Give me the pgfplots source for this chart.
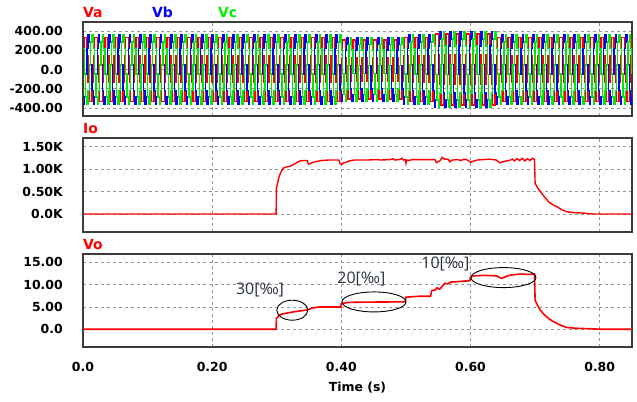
\documentclass[border=0pt]{standalone}
\usepackage{fontspec}
\setmainfont{DejaVu Sans}
\newfontfamily\annfont{Open Sans}
\usepackage{pgfplots}
\pgfplotsset{compat=1.18}
\usepackage{pgfplotstable}

\definecolor{vred}{RGB}{255,0,0}
\definecolor{vblue}{RGB}{0,0,255}
\definecolor{vgreen}{RGB}{0,235,0}
\definecolor{anntext}{RGB}{40,48,62}
\definecolor{gridgray}{RGB}{150,150,150}
\definecolor{framegray}{RGB}{60,60,60}

\pgfplotsset{
  psim/.style={
    scale only axis, width=549bp, xmin=0, xmax=0.85,
    axis line style={draw=framegray, line width=1.2bp},
    grid=major,
    major grid style={gridgray, line width=0.9bp, dash pattern=on 3bp off 3bp},
    major tick length=0,
    xtick={0,0.2,0.4,0.6,0.8},
    tick label style={font=\bfseries\fontsize{12.5}{14}\selectfont},
    yticklabel style={anchor=east, inner sep=0pt, xshift=-20bp},
    xticklabel style={anchor=north, inner sep=0pt, yshift=-15bp},
  },
}

% three phase voltages, sampled every 2 ms (t, Va, Vb, Vc)
\pgfplotstableread{
t va vb vc
0.000 138 -357 219
0.002 333 -285 -47
0.004 333 -47 -285
0.006 138 219 -357
0.008 -138 357 -219
0.010 -333 285 47
0.012 -333 47 285
0.014 -138 -219 357
0.016 138 -357 219
0.018 333 -285 -47
0.020 333 -47 -285
0.022 138 219 -357
0.024 -138 357 -219
0.026 -333 285 47
0.028 -333 47 285
0.030 -138 -219 357
0.032 138 -357 219
0.034 333 -285 -47
0.036 333 -47 -285
0.038 138 219 -357
0.040 -138 357 -219
0.042 -333 285 47
0.044 -333 47 285
0.046 -138 -219 357
0.048 138 -357 219
0.050 333 -285 -47
0.052 333 -47 -285
0.054 138 219 -357
0.056 -138 357 -219
0.058 -333 285 47
0.060 -333 47 285
0.062 -138 -219 357
0.064 138 -357 219
0.066 333 -285 -47
0.068 333 -47 -285
0.070 138 219 -357
0.072 -138 357 -219
0.074 -333 285 47
0.076 -333 47 285
0.078 -138 -219 357
0.080 138 -357 219
0.082 333 -285 -47
0.084 333 -47 -285
0.086 138 219 -357
0.088 -138 357 -219
0.090 -333 285 47
0.092 -333 47 285
0.094 -138 -219 357
0.096 138 -357 219
0.098 333 -285 -47
0.100 333 -47 -285
0.102 138 219 -357
0.104 -138 357 -219
0.106 -333 285 47
0.108 -333 47 285
0.110 -138 -219 357
0.112 138 -357 219
0.114 333 -285 -47
0.116 333 -47 -285
0.118 138 219 -357
0.120 -138 357 -219
0.122 -333 285 47
0.124 -333 47 285
0.126 -138 -219 357
0.128 138 -357 219
0.130 333 -285 -47
0.132 333 -47 -285
0.134 138 219 -357
0.136 -138 357 -219
0.138 -333 285 47
0.140 -333 47 285
0.142 -138 -219 357
0.144 138 -357 219
0.146 333 -285 -47
0.148 333 -47 -285
0.150 138 219 -357
0.152 -138 357 -219
0.154 -333 285 47
0.156 -333 47 285
0.158 -138 -219 357
0.160 138 -357 219
0.162 333 -285 -47
0.164 333 -47 -285
0.166 138 219 -357
0.168 -138 357 -219
0.170 -333 285 47
0.172 -333 47 285
0.174 -138 -219 357
0.176 138 -357 219
0.178 333 -285 -47
0.180 333 -47 -285
0.182 138 219 -357
0.184 -138 357 -219
0.186 -333 285 47
0.188 -333 47 285
0.190 -138 -219 357
0.192 138 -357 219
0.194 333 -285 -47
0.196 333 -47 -285
0.198 138 219 -357
0.200 -138 357 -219
0.202 -333 285 47
0.204 -333 47 285
0.206 -138 -219 357
0.208 138 -357 219
0.210 333 -285 -47
0.212 333 -47 -285
0.214 138 219 -357
0.216 -138 357 -219
0.218 -333 285 47
0.220 -333 47 285
0.222 -138 -219 357
0.224 138 -357 219
0.226 333 -285 -47
0.228 333 -47 -285
0.230 138 219 -357
0.232 -138 357 -219
0.234 -333 285 47
0.236 -333 47 285
0.238 -138 -219 357
0.240 138 -357 219
0.242 333 -285 -47
0.244 333 -47 -285
0.246 138 219 -357
0.248 -138 357 -219
0.250 -333 285 47
0.252 -333 47 285
0.254 -138 -219 357
0.256 138 -357 219
0.258 333 -285 -47
0.260 333 -47 -285
0.262 138 219 -357
0.264 -138 357 -219
0.266 -333 285 47
0.268 -333 47 285
0.270 -138 -219 357
0.272 138 -357 219
0.274 333 -285 -47
0.276 333 -47 -285
0.278 138 219 -357
0.280 -138 357 -219
0.282 -333 285 47
0.284 -333 47 285
0.286 -138 -219 357
0.288 138 -357 219
0.290 333 -285 -47
0.292 333 -47 -285
0.294 138 219 -357
0.296 -138 357 -219
0.298 -333 285 47
0.300 -333 47 285
0.302 -138 -219 357
0.304 138 -357 219
0.306 333 -285 -47
0.308 333 -47 -285
0.310 138 219 -357
0.312 -138 357 -219
0.314 -333 285 47
0.316 -333 47 285
0.318 -138 -219 357
0.320 138 -357 219
0.322 333 -285 -47
0.324 333 -47 -285
0.326 138 219 -357
0.328 -138 357 -219
0.330 -333 285 47
0.332 -333 47 285
0.334 -138 -219 357
0.336 138 -357 219
0.338 333 -285 -47
0.340 333 -47 -285
0.342 138 219 -357
0.344 -138 357 -219
0.346 -333 285 47
0.348 -333 47 285
0.350 -138 -219 357
0.352 138 -357 219
0.354 333 -285 -47
0.356 333 -47 -285
0.358 138 219 -357
0.360 -138 357 -219
0.362 -333 285 47
0.364 -333 47 285
0.366 -138 -219 357
0.368 138 -357 219
0.370 333 -285 -47
0.372 333 -47 -285
0.374 138 219 -357
0.376 -138 357 -219
0.378 -333 285 47
0.380 -333 47 285
0.382 -138 -219 357
0.384 138 -357 219
0.386 333 -285 -47
0.388 333 -47 -285
0.390 138 219 -357
0.392 -138 357 -219
0.394 -333 285 47
0.396 -333 47 285
0.398 -138 -219 357
0.400 126 -327 201
0.402 305 -262 -43
0.404 305 -43 -262
0.406 126 201 -327
0.408 -126 327 -201
0.410 -305 262 43
0.412 -305 43 262
0.414 -126 -201 327
0.416 126 -327 201
0.418 305 -262 -43
0.420 305 -43 -262
0.422 126 201 -327
0.424 -126 327 -201
0.426 -305 262 43
0.428 -305 43 262
0.430 -126 -201 327
0.432 126 -327 201
0.434 305 -262 -43
0.436 305 -43 -262
0.438 126 201 -327
0.440 -126 327 -201
0.442 -305 262 43
0.444 -305 43 262
0.446 -126 -201 327
0.448 126 -327 201
0.450 305 -262 -43
0.452 305 -43 -262
0.454 126 201 -327
0.456 -126 327 -201
0.458 -305 262 43
0.460 -305 43 262
0.462 -126 -201 327
0.464 126 -327 201
0.466 305 -262 -43
0.468 305 -43 -262
0.470 126 201 -327
0.472 -126 327 -201
0.474 -305 262 43
0.476 -305 43 262
0.478 -126 -201 327
0.480 126 -327 201
0.482 305 -262 -43
0.484 305 -43 -262
0.486 126 201 -327
0.488 -126 327 -201
0.490 -305 262 43
0.492 -305 43 262
0.494 -126 -201 327
0.496 138 -357 219
0.498 333 -285 -47
0.500 333 -47 -285
0.502 138 219 -357
0.504 -138 357 -219
0.506 -333 285 47
0.508 -333 47 285
0.510 -138 -219 357
0.512 138 -357 219
0.514 333 -285 -47
0.516 333 -47 -285
0.518 138 219 -357
0.520 -138 357 -219
0.522 -333 285 47
0.524 -333 47 285
0.526 -138 -219 357
0.528 138 -357 219
0.530 333 -285 -47
0.532 333 -47 -285
0.534 138 219 -357
0.536 -138 357 -219
0.538 -333 285 47
0.540 -333 47 285
0.542 -138 -219 357
0.544 153 -397 244
0.546 370 -317 -52
0.548 370 -52 -317
0.550 153 244 -397
0.552 -153 397 -244
0.554 -370 317 52
0.556 -370 52 317
0.558 -153 -244 397
0.560 153 -397 244
0.562 370 -317 -52
0.564 370 -52 -317
0.566 153 244 -397
0.568 -153 397 -244
0.570 -370 317 52
0.572 -370 52 317
0.574 -153 -244 397
0.576 153 -397 244
0.578 370 -317 -52
0.580 370 -52 -317
0.582 153 244 -397
0.584 -153 397 -244
0.586 -370 317 52
0.588 -370 52 317
0.590 -153 -244 397
0.592 153 -397 244
0.594 370 -317 -52
0.596 370 -52 -317
0.598 153 244 -397
0.600 -153 397 -244
0.602 -370 317 52
0.604 -370 52 317
0.606 -153 -244 397
0.608 153 -397 244
0.610 370 -317 -52
0.612 370 -52 -317
0.614 153 244 -397
0.616 -153 397 -244
0.618 -370 317 52
0.620 -370 52 317
0.622 -153 -244 397
0.624 153 -397 244
0.626 370 -317 -52
0.628 370 -52 -317
0.630 153 244 -397
0.632 -153 397 -244
0.634 -370 317 52
0.636 -370 52 317
0.638 -153 -244 397
0.640 138 -357 219
0.642 333 -285 -47
0.644 333 -47 -285
0.646 138 219 -357
0.648 -138 357 -219
0.650 -333 285 47
0.652 -333 47 285
0.654 -138 -219 357
0.656 138 -357 219
0.658 333 -285 -47
0.660 333 -47 -285
0.662 138 219 -357
0.664 -138 357 -219
0.666 -333 285 47
0.668 -333 47 285
0.670 -138 -219 357
0.672 138 -357 219
0.674 333 -285 -47
0.676 333 -47 -285
0.678 138 219 -357
0.680 -138 357 -219
0.682 -333 285 47
0.684 -333 47 285
0.686 -138 -219 357
0.688 138 -357 219
0.690 333 -285 -47
0.692 333 -47 -285
0.694 138 219 -357
0.696 -138 357 -219
0.698 -333 285 47
0.700 -333 47 285
0.702 -138 -219 357
0.704 138 -357 219
0.706 333 -285 -47
0.708 333 -47 -285
0.710 138 219 -357
0.712 -138 357 -219
0.714 -333 285 47
0.716 -333 47 285
0.718 -138 -219 357
0.720 138 -357 219
0.722 333 -285 -47
0.724 333 -47 -285
0.726 138 219 -357
0.728 -138 357 -219
0.730 -333 285 47
0.732 -333 47 285
0.734 -138 -219 357
0.736 138 -357 219
0.738 333 -285 -47
0.740 333 -47 -285
0.742 138 219 -357
0.744 -138 357 -219
0.746 -333 285 47
0.748 -333 47 285
0.750 -138 -219 357
0.752 138 -357 219
0.754 333 -285 -47
0.756 333 -47 -285
0.758 138 219 -357
0.760 -138 357 -219
0.762 -333 285 47
0.764 -333 47 285
0.766 -138 -219 357
0.768 138 -357 219
0.770 333 -285 -47
0.772 333 -47 -285
0.774 138 219 -357
0.776 -138 357 -219
0.778 -333 285 47
0.780 -333 47 285
0.782 -138 -219 357
0.784 138 -357 219
0.786 333 -285 -47
0.788 333 -47 -285
0.790 138 219 -357
0.792 -138 357 -219
0.794 -333 285 47
0.796 -333 47 285
0.798 -138 -219 357
0.800 138 -357 219
0.802 333 -285 -47
0.804 333 -47 -285
0.806 138 219 -357
0.808 -138 357 -219
0.810 -333 285 47
0.812 -333 47 285
0.814 -138 -219 357
0.816 138 -357 219
0.818 333 -285 -47
0.820 333 -47 -285
0.822 138 219 -357
0.824 -138 357 -219
0.826 -333 285 47
0.828 -333 47 285
0.830 -138 -219 357
0.832 138 -357 219
0.834 333 -285 -47
0.836 333 -47 -285
0.838 138 219 -357
0.840 -138 357 -219
0.842 -333 285 47
0.844 -333 47 285
0.846 -138 -219 357
0.848 138 -357 219
0.850 333 -285 -47
}\vtab

\begin{document}
\begin{tikzpicture}
\useasboundingbox (0,0) rectangle (637bp,-402bp);

% ---- panel 1: Va Vb Vc
\begin{axis}[psim, at={(83bp,-22bp)}, anchor=north west, height=94bp,
    ymin=-483, ymax=493, ytick={-400,-200,0,200,400},
    yticklabels={-400.00,-200.00,0.0,200.00,400.00}, xticklabels=\empty]
\addplot[vred, line width=1.4bp, const plot mark left] table[x=t, y=va] {\vtab};
\addplot[vblue, line width=1.4bp, const plot mark left] table[x=t, y=vb] {\vtab};
\addplot[vgreen, line width=1.4bp, const plot mark left] table[x=t, y=vc] {\vtab};
\end{axis}

% ---- panel 2: Io (kA)
\begin{axis}[psim, at={(83bp,-138bp)}, anchor=north west, height=94bp,
    ymin=-0.40, ymax=1.69, ytick={0,0.5,1,1.5},
    yticklabels={0.0K,0.50K,1.00K,1.50K}, xticklabels=\empty]
\addplot[vred, line width=1.4bp] coordinates {
(0,0) (0.299,0) (0.2995,0.57) (0.303,0.80) (0.306,0.92) (0.310,1.02)
(0.316,1.05) (0.322,1.07) (0.326,1.10) (0.332,1.15) (0.336,1.18)
(0.342,1.19) (0.347,1.19) (0.349,1.11) (0.352,1.12) (0.356,1.15)
(0.362,1.17) (0.370,1.19) (0.380,1.20) (0.396,1.20) (0.398,1.12)
(0.400,1.10) (0.404,1.14) (0.408,1.15) (0.412,1.18) (0.420,1.20)
(0.440,1.20) (0.455,1.21) (0.460,1.20) (0.475,1.21) (0.480,1.23)
(0.482,1.20) (0.490,1.21) (0.494,1.24) (0.496,1.20) (0.499,1.21)
(0.500,1.13) (0.501,1.20) (0.504,1.19) (0.510,1.21) (0.530,1.21)
(0.545,1.21) (0.547,1.14) (0.550,1.16) (0.553,1.19) (0.556,1.26)
(0.560,1.22) (0.565,1.22) (0.568,1.16) (0.572,1.20) (0.580,1.21)
(0.585,1.19) (0.590,1.22) (0.595,1.20) (0.600,1.15) (0.603,1.17)
(0.610,1.20) (0.620,1.21) (0.630,1.22) (0.640,1.20) (0.645,1.14)
(0.652,1.17) (0.660,1.19) (0.665,1.22) (0.668,1.18) (0.672,1.23)
(0.676,1.19) (0.680,1.24) (0.684,1.18) (0.688,1.23) (0.692,1.19)
(0.696,1.24) (0.699,1.21) (0.700,0.68) (0.704,0.58) (0.708,0.50)
(0.714,0.39) (0.721,0.27) (0.727,0.21) (0.734,0.16) (0.741,0.10)
(0.749,0.05) (0.760,0.03) (0.775,0.02) (0.790,0) (0.850,0)
};
\end{axis}

% ---- panel 3: Vo
\begin{axis}[psim, at={(83bp,-254bp)}, anchor=north west, height=93bp,
    ymin=-4.0, ymax=16.9, ytick={0,5,10,15},
    yticklabels={0.0,5.00,10.00,15.00}, xticklabels={0.0,0.20,0.40,0.60,0.80},
    xlabel={Time (s)},
    xlabel style={at={(0.5,0)}, anchor=north, inner sep=0pt, yshift=-35bp,
      font=\bfseries\fontsize{12.5}{14}\selectfont}]
\addplot[vred, line width=1.6bp] coordinates {
(0,0) (0.299,0) (0.2995,2.4) (0.303,3.0) (0.307,3.37) (0.315,3.6)
(0.326,3.9) (0.336,4.1) (0.346,4.3) (0.352,4.6) (0.356,4.8) (0.366,5.0)
(0.399,5.0) (0.400,5.77) (0.410,6.0) (0.420,6.05) (0.450,6.1)
(0.499,6.15) (0.500,7.2) (0.520,7.4) (0.538,7.4) (0.540,8.7)
(0.545,8.8) (0.548,9.3) (0.552,9.0) (0.556,9.6) (0.560,10.3)
(0.565,10.2) (0.570,10.6) (0.580,10.7) (0.590,10.8) (0.599,10.9)
(0.600,11.75) (0.605,12.0) (0.620,12.1) (0.640,12.0) (0.648,11.4)
(0.652,11.7) (0.660,12.1) (0.670,12.3) (0.680,12.4) (0.690,12.3)
(0.699,12.4) (0.700,6.5) (0.704,5.3) (0.708,4.3) (0.714,3.3)
(0.721,2.4) (0.727,1.8) (0.734,1.28) (0.741,0.8) (0.749,0.38)
(0.765,0.2) (0.785,0.1) (0.800,0) (0.850,0)
};
\draw[black, line width=0.9bp] (axis cs:0.324,4.27) ellipse [x radius=15.5bp, y radius=10bp];
\draw[black, line width=0.9bp] (axis cs:0.4505,6.13) ellipse [x radius=32bp, y radius=10bp];
\draw[black, line width=0.9bp] (axis cs:0.651,11.6) ellipse [x radius=32.5bp, y radius=10bp];
\node[text=anntext, font=\annfont\fontsize{16}{18}\selectfont, inner sep=0pt] at (axis cs:0.274,8.76) {30[‰]};
\node[text=anntext, font=\annfont\fontsize{16}{18}\selectfont, inner sep=0pt] at (axis cs:0.431,11.35) {20[‰]};
\node[text=anntext, font=\annfont\fontsize{16}{18}\selectfont, inner sep=0pt] at (axis cs:0.561,14.6) {10[‰]};
\end{axis}

% panel titles
\node[anchor=base west, inner sep=0pt, text=vred, font=\bfseries\fontsize{14}{16}\selectfont] at (83bp,-17bp) {Va};
\node[anchor=base west, inner sep=0pt, text=vblue, font=\bfseries\fontsize{14}{16}\selectfont] at (152bp,-17bp) {Vb};
\node[anchor=base west, inner sep=0pt, text=vgreen, font=\bfseries\fontsize{14}{16}\selectfont] at (218bp,-17bp) {Vc};
\node[anchor=base west, inner sep=0pt, text=vred, font=\bfseries\fontsize{14}{16}\selectfont] at (83bp,-133bp) {Io};
\node[anchor=base west, inner sep=0pt, text=vred, font=\bfseries\fontsize{14}{16}\selectfont] at (83bp,-249bp) {Vo};
\end{tikzpicture}
\end{document}
